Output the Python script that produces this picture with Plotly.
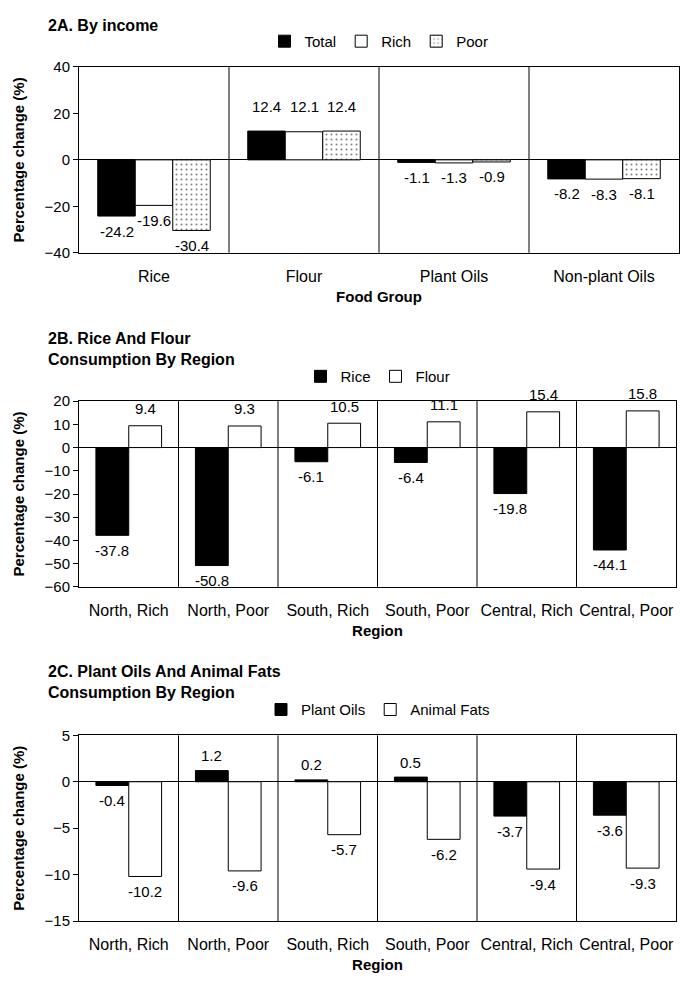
import plotly.graph_objects as go

# ---------------- data ----------------
food_groups = ["Rice", "Flour", "Plant Oils", "Non-plant Oils"]
total_vals = [-24.2, 12.4, -1.1, -8.2]
rich_vals = [-19.6, 12.1, -1.3, -8.3]
poor_vals = [-30.4, 12.4, -0.9, -8.1]

regions = ["North, Rich", "North, Poor", "South, Rich", "South, Poor",
           "Central, Rich", "Central, Poor"]
rice_vals = [-37.8, -50.8, -6.1, -6.4, -19.8, -44.1]
flour_vals = [9.4, 9.3, 10.5, 11.1, 15.4, 15.8]
plant_oil_vals = [-0.4, 1.2, 0.2, 0.5, -3.7, -3.6]
animal_fat_vals = [-10.2, -9.6, -5.7, -6.2, -9.4, -9.3]

FONT = "Liberation Sans, Arial, sans-serif"
W, H = 686, 990

fig = go.Figure()

solid_black = dict(color="black", line=dict(color="black", width=1))
solid_white = dict(color="white", line=dict(color="black", width=1))
dotted = dict(color="white", line=dict(color="black", width=1),
              pattern=dict(shape=".", fgcolor="black", bgcolor="white",
                           size=5, solidity=0.13))


def px_y(p):
    return 1 - p / H


def add_panel(idx, cats, series, group_frac, legend_name, pos_shift, neg_shift):
    xa = "x" if idx == 1 else f"x{idx}"
    ya = "y" if idx == 1 else f"y{idx}"
    m = len(series)
    w = group_frac / m
    n = len(cats)
    for j, (name, vals, marker) in enumerate(series):
        off = -group_frac / 2 + j * w
        fig.add_trace(go.Bar(
            x=list(range(n)), y=vals, name=name, xaxis=xa, yaxis=ya,
            width=w, offset=off, marker=marker, legend=legend_name,
            hoverinfo="skip"))
        for i, v in enumerate(vals):
            fig.add_annotation(
                x=i + off + w / 2, y=v, xref=xa, yref=ya, text=f"{v:.1f}",
                showarrow=False, yshift=pos_shift if v >= 0 else -neg_shift,
                font=dict(size=15, color="black", family=FONT))
    # category separators
    for i in range(n - 1):
        fig.add_shape(type="line", x0=i + 0.5, x1=i + 0.5, y0=0, y1=1,
                      xref=xa, yref=f"{ya} domain",
                      line=dict(color="black", width=1))


add_panel(1, food_groups,
          [("Total", total_vals, solid_black),
           ("Rich", rich_vals, solid_white),
           ("Poor", poor_vals, dotted)], 0.75, "legend", 25, 15)
add_panel(2, regions,
          [("Rice", rice_vals, solid_black),
           ("Flour", flour_vals, solid_white)], 0.66, "legend2", 17, 15)
add_panel(3, regions,
          [("Plant Oils", plant_oil_vals, solid_black),
           ("Animal Fats", animal_fat_vals, solid_white)], 0.66, "legend3", 15, 15)

tickfont = dict(size=15, color="black", family=FONT)
xtickfont = dict(size=16, color="black", family=FONT)
titlefont = dict(size=15, color="black", family=FONT, weight="bold")


def xaxis(cats, domain, anchor, title):
    return dict(domain=domain, anchor=anchor, range=[-0.5, len(cats) - 0.5],
                tickvals=list(range(len(cats))), ticktext=cats, ticks="",
                showgrid=False, zeroline=False, showline=True, mirror=True,
                linecolor="black", linewidth=1, tickfont=xtickfont,
                ticklabelstandoff=9,
                title=dict(text=title, font=titlefont, standoff=7))


def yaxis(rng, dtick, domain, anchor):
    return dict(domain=domain, anchor=anchor, range=rng, dtick=dtick,
                ticks="outside", ticklen=5, tickcolor="black",
                showgrid=False, zeroline=True, zerolinecolor="black",
                zerolinewidth=1, showline=True, mirror=True,
                linecolor="black", linewidth=1, tickfont=tickfont,
                title=dict(text="Percentage change (%)", font=titlefont,
                           standoff=16))


dA = [px_y(248), px_y(59)]
dB = [px_y(588), px_y(399)]
dC = [px_y(928), px_y(739)]

legend_common = dict(orientation="h", xanchor="center", yanchor="middle",
                     font=dict(size=15, color="black", family=FONT),
                     bgcolor="rgba(0,0,0,0)", borderwidth=0)

fig.update_layout(
    width=W, height=H, margin=dict(l=0, r=0, t=0, b=0),
    paper_bgcolor="white", plot_bgcolor="white",
    font=dict(family=FONT, color="black"),
    barmode="overlay",
    xaxis=xaxis(food_groups, [79 / W, 679 / W], "y", "Food Group"),
    yaxis=yaxis([-40, 40], 20, dA, "x"),
    xaxis2=xaxis(regions, [79 / W, 676 / W], "y2", "Region"),
    yaxis2=yaxis([-60, 20], 10, dB, "x2"),
    xaxis3=xaxis(regions, [79 / W, 676 / W], "y3", "Region"),
    yaxis3=yaxis([-15, 5], 5, dC, "x3"),
    legend=dict(legend_common, x=379 / W, y=px_y(33)),
    legend2=dict(legend_common, x=378 / W, y=px_y(374)),
    legend3=dict(legend_common, x=378 / W, y=px_y(713)),
)

panel_titles = [("2A. By income", 17),
                ("2B. Rice And Flour<br>Consumption By Region", 346),
                ("2C. Plant Oils And Animal Fats<br>Consumption By Region", 685)]
for txt, ypx in panel_titles:
    fig.add_annotation(x=46 / W, y=px_y(ypx), xref="paper", yref="paper",
                       xanchor="left", yanchor="middle", align="left",
                       text=f"<b>{txt}</b>", showarrow=False,
                       font=dict(size=16, color="black", family=FONT))

fig.write_html(
    "out.html", config=dict(displayModeBar=False),
    post_script="document.body.style.margin='0';document.body.style.padding='0';"
                "document.documentElement.style.overflow='hidden';")
